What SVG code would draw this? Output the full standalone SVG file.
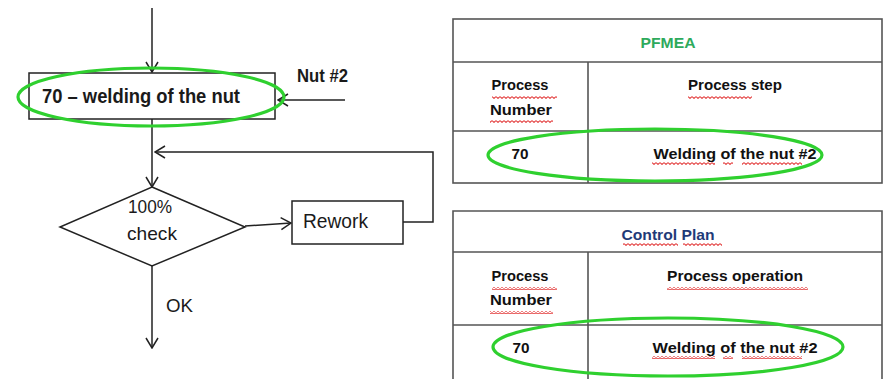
<svg xmlns="http://www.w3.org/2000/svg" width="884" height="379" viewBox="0 0 884 379">
<defs>
<marker id="arr" markerWidth="12" markerHeight="14" refX="11" refY="7" orient="auto" markerUnits="userSpaceOnUse">
<path d="M1,1 L11,7 L1,13" fill="none" stroke="#222" stroke-width="1.5"/>
</marker>
<pattern id="wavy" width="4" height="3" patternUnits="userSpaceOnUse">
<path d="M0,0.6 L2,2.4 L4,0.6" fill="none" stroke="#e23a3a" stroke-width="1.1"/>
</pattern>
<style>
.ln{fill:none;stroke:#222;stroke-width:1.5}
.box{fill:#fff;stroke:#222;stroke-width:1.5}
.ft{font-family:"Liberation Sans",Arial,sans-serif;fill:#1a1a1a}
.b{font-weight:bold}
.tb{fill:none;stroke:#555;stroke-width:1.6}
.tt{font-family:"Liberation Sans",Arial,sans-serif;font-weight:bold;font-size:15px;fill:#111}
.ring{fill:none;stroke:#2fd02f;stroke-width:3.2}
.wv{fill:url(#wavy)}
</style>
</defs>
<rect width="884" height="379" fill="#fff"/>

<g id="connectors">
<line class="ln" x1="152" y1="8" x2="152" y2="72" marker-end="url(#arr)"/>
<line class="ln" x1="345" y1="100" x2="278" y2="100" marker-end="url(#arr)"/>
<line class="ln" x1="152" y1="119" x2="152" y2="187" marker-end="url(#arr)"/>
<polyline class="ln" points="403,222 433,222 433,152 155,152" marker-end="url(#arr)" stroke="#444" stroke-width="2"/>
<line class="ln" x1="245" y1="226" x2="291" y2="223" marker-end="url(#arr)"/>
<line class="ln" x1="152" y1="266" x2="152" y2="348" marker-end="url(#arr)"/>
</g>

<g id="weld">
<rect class="box" x="29" y="73" width="246" height="46"/>
<text class="ft b" x="42" y="103" font-size="20" textLength="198" lengthAdjust="spacingAndGlyphs">70 – welding of the nut</text>
</g>
<g id="nutlabel">
<text class="ft b" x="297" y="82" font-size="18" textLength="51" lengthAdjust="spacingAndGlyphs">Nut #2</text>
</g>
<g id="check">
<polygon class="box" points="152,187 245,227 152,266 60,227"/>
<text class="ft" x="150" y="213" font-size="19" text-anchor="middle" textLength="44" lengthAdjust="spacingAndGlyphs">100%</text>
<text class="ft" x="152" y="240" font-size="19" text-anchor="middle" textLength="50" lengthAdjust="spacingAndGlyphs">check</text>
</g>
<g id="rework">
<rect class="box" x="292" y="201" width="111" height="43"/>
<text class="ft" x="303" y="228" font-size="20" textLength="65" lengthAdjust="spacingAndGlyphs">Rework</text>
</g>
<g id="ok">
<text class="ft" x="166" y="312" font-size="19" textLength="27" lengthAdjust="spacingAndGlyphs">OK</text>
</g>

<g id="pfmea">
<rect class="tb" x="453" y="19" width="429" height="164"/>
<line class="tb" x1="453" y1="62" x2="882" y2="62"/>
<line class="tb" x1="453" y1="131" x2="882" y2="131"/>
<line class="tb" x1="588" y1="62" x2="588" y2="183"/>
<text class="tt" x="668" y="48" text-anchor="middle" style="fill:#2eaa5c" textLength="55" lengthAdjust="spacingAndGlyphs">PFMEA</text>
<text class="tt" x="520" y="90" text-anchor="middle" textLength="57" lengthAdjust="spacingAndGlyphs">Process</text>
<text class="tt" x="521" y="115" text-anchor="middle" textLength="62" lengthAdjust="spacingAndGlyphs">Number</text>
<text class="tt" x="735" y="90" text-anchor="middle" textLength="94" lengthAdjust="spacingAndGlyphs">Process step</text>
<text class="tt" x="520" y="159" text-anchor="middle" textLength="17" lengthAdjust="spacingAndGlyphs">70</text>
<text class="tt" x="735" y="159" text-anchor="middle" textLength="163" lengthAdjust="spacingAndGlyphs">Welding of the nut #2</text>
<rect class="wv" x="492" y="96" width="65" height="3"/>
<rect class="wv" x="490" y="120" width="63" height="3"/>
<rect class="wv" x="688" y="96" width="64" height="3"/>
<rect class="wv" x="652" y="162" width="63" height="3"/>
<rect class="wv" x="723" y="162" width="10" height="3"/>
<rect class="wv" x="742" y="162" width="60" height="3"/>
</g>

<g id="controlplan">
<path class="tb" d="M453,379 V211 H882 V379"/>
<line class="tb" x1="453" y1="252" x2="882" y2="252"/>
<line class="tb" x1="453" y1="325" x2="882" y2="325"/>
<line class="tb" x1="588" y1="252" x2="588" y2="379"/>
<text class="tt" x="668" y="240" text-anchor="middle" style="fill:#1f3a78" textLength="93" lengthAdjust="spacingAndGlyphs">Control Plan</text>
<text class="tt" x="520" y="281" text-anchor="middle" textLength="57" lengthAdjust="spacingAndGlyphs">Process</text>
<text class="tt" x="521" y="305" text-anchor="middle" textLength="62" lengthAdjust="spacingAndGlyphs">Number</text>
<text class="tt" x="735" y="281" text-anchor="middle" textLength="136" lengthAdjust="spacingAndGlyphs">Process operation</text>
<text class="tt" x="521" y="353" text-anchor="middle" textLength="17" lengthAdjust="spacingAndGlyphs">70</text>
<text class="tt" x="735" y="353" text-anchor="middle" textLength="165" lengthAdjust="spacingAndGlyphs">Welding of the nut #2</text>
<rect class="wv" x="623" y="243" width="55" height="3"/>
<rect class="wv" x="683" y="243" width="39" height="3"/>
<rect class="wv" x="492" y="287" width="65" height="3"/>
<rect class="wv" x="490" y="311" width="63" height="3"/>
<rect class="wv" x="667" y="287" width="141" height="3"/>
<rect class="wv" x="652" y="356" width="63" height="3"/>
<rect class="wv" x="723" y="356" width="10" height="3"/>
<rect class="wv" x="742" y="356" width="60" height="3"/>
</g>

<g id="highlights">
<ellipse class="ring" cx="151" cy="97" rx="133" ry="29"/>
<ellipse class="ring" cx="655" cy="155" rx="167" ry="26"/>
<ellipse class="ring" cx="668" cy="347" rx="175" ry="29"/>
</g>
</svg>
